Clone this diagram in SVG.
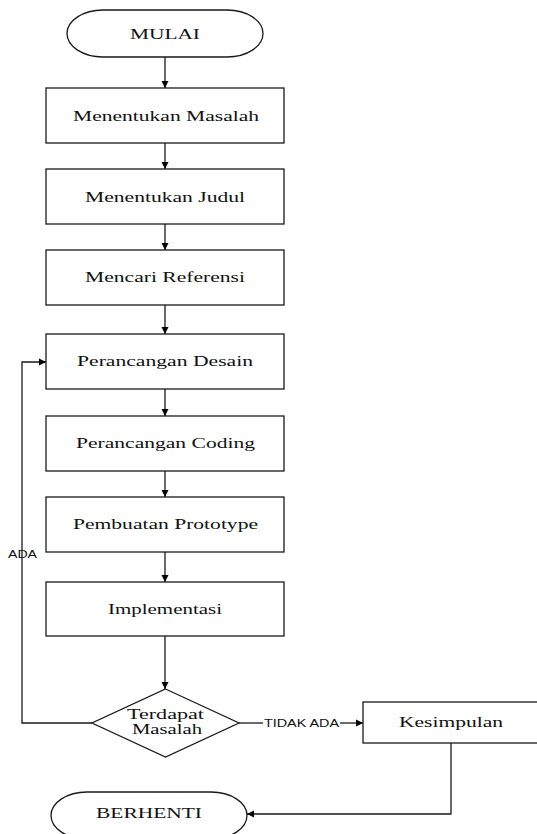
<svg xmlns="http://www.w3.org/2000/svg" width="537" height="834" viewBox="0 0 537 834">
<style>
.shape{fill:#fff;stroke:#1a1a1a;stroke-width:1.3}
.lbl{font-family:"Liberation Serif","Times New Roman",serif;font-size:15px;fill:#111;text-anchor:middle}
.sm{font-family:"Liberation Sans",Arial,sans-serif;font-size:10px;fill:#111;text-anchor:middle}
.con{fill:none;stroke:#1a1a1a;stroke-width:1.3}
</style>
<defs>
<marker id="ah" markerWidth="8" markerHeight="8" refX="7" refY="4" orient="auto" markerUnits="userSpaceOnUse">
<path d="M0,0.5 L7,4 L0,7.5 Z" fill="#000"/>
</marker>
</defs>
<rect width="537" height="834" fill="#fff"/>
<g id="connectors">
<path class="con" d="M165,57 V88" marker-end="url(#ah)"/>
<path class="con" d="M165,143 V169" marker-end="url(#ah)"/>
<path class="con" d="M165,224 V250" marker-end="url(#ah)"/>
<path class="con" d="M165,305 V334" marker-end="url(#ah)"/>
<path class="con" d="M165,389 V416" marker-end="url(#ah)"/>
<path class="con" d="M165,471 V497" marker-end="url(#ah)"/>
<path class="con" d="M165,552 V582" marker-end="url(#ah)"/>
<path class="con" d="M165,636 V689" marker-end="url(#ah)"/>
<path class="con" d="M92,723 H22 V362 H46" marker-end="url(#ah)"/>
<path class="con" d="M239,723 H263"/>
<path class="con" d="M340,723 H363" marker-end="url(#ah)"/>
<path class="con" d="M451,743 V814 H247" marker-end="url(#ah)"/>
<text class="sm" x="22.5" y="558" textLength="29" lengthAdjust="spacingAndGlyphs">ADA</text>
<text class="sm" x="301.5" y="727" textLength="75" lengthAdjust="spacingAndGlyphs">TIDAK ADA</text>
</g>
<g id="mulai">
<rect class="shape" x="67" y="10" width="196" height="47" rx="36" ry="23.5"/>
<text class="lbl" x="165" y="38.5" textLength="70" lengthAdjust="spacingAndGlyphs">MULAI</text>
</g>
<g id="menentukan-masalah">
<rect class="shape" x="46" y="88" width="238" height="55"/>
<text class="lbl" x="166" y="121" textLength="186" lengthAdjust="spacingAndGlyphs">Menentukan Masalah</text>
</g>
<g id="menentukan-judul">
<rect class="shape" x="46" y="169" width="238" height="55"/>
<text class="lbl" x="165" y="202" textLength="160" lengthAdjust="spacingAndGlyphs">Menentukan Judul</text>
</g>
<g id="mencari-referensi">
<rect class="shape" x="46" y="250" width="238" height="55"/>
<text class="lbl" x="165" y="282" textLength="160" lengthAdjust="spacingAndGlyphs">Mencari Referensi</text>
</g>
<g id="perancangan-desain">
<rect class="shape" x="46" y="334" width="238" height="55"/>
<text class="lbl" x="165" y="366" textLength="176" lengthAdjust="spacingAndGlyphs">Perancangan Desain</text>
</g>
<g id="perancangan-coding">
<rect class="shape" x="46" y="416" width="238" height="55"/>
<text class="lbl" x="165.5" y="448" textLength="179" lengthAdjust="spacingAndGlyphs">Perancangan Coding</text>
</g>
<g id="pembuatan-prototype">
<rect class="shape" x="46" y="497" width="238" height="55"/>
<text class="lbl" x="165.5" y="529" textLength="185" lengthAdjust="spacingAndGlyphs">Pembuatan Prototype</text>
</g>
<g id="implementasi">
<rect class="shape" x="46" y="582" width="238" height="54"/>
<text class="lbl" x="165" y="614" textLength="114" lengthAdjust="spacingAndGlyphs">Implementasi</text>
</g>
<g id="terdapat-masalah">
<polygon class="shape" points="165.5,689 239,723 165.5,757 92,723"/>
<text class="lbl" x="165.5" y="719" textLength="77" lengthAdjust="spacingAndGlyphs">Terdapat</text>
<text class="lbl" x="167" y="733.5" textLength="70" lengthAdjust="spacingAndGlyphs">Masalah</text>
</g>
<g id="kesimpulan">
<rect class="shape" x="363" y="702" width="190" height="41"/>
<text class="lbl" x="451" y="727" textLength="104" lengthAdjust="spacingAndGlyphs">Kesimpulan</text>
</g>
<g id="berhenti">
<rect class="shape" x="51" y="792" width="196" height="47" rx="36" ry="23.5"/>
<text class="lbl" x="149" y="818" textLength="106" lengthAdjust="spacingAndGlyphs">BERHENTI</text>
</g>
</svg>
